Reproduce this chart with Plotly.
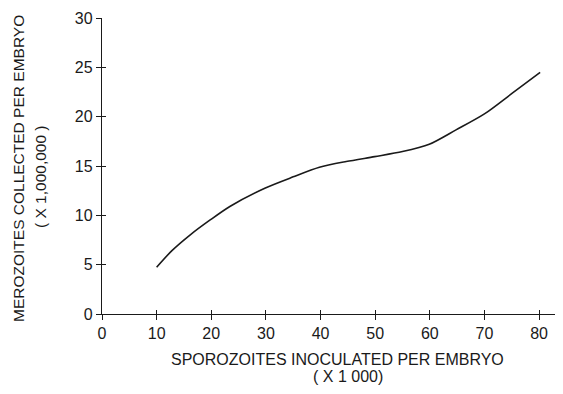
import plotly.graph_objects as go

sporozoites = [10, 12.8, 16.1, 19.8, 23.4, 29.8, 35.0, 39.8, 44.7, 49.9, 55.0, 59.9, 64.8, 70.0, 75.1, 80.2]
merozoites = [4.74, 6.42, 8.0, 9.53, 10.9, 12.75, 13.9, 14.87, 15.45, 15.95, 16.46, 17.2, 18.66, 20.28, 22.38, 24.5]
x_ticks = [0, 10, 20, 30, 40, 50, 60, 70, 80]
y_ticks = [0, 5, 10, 15, 20, 25, 30]

# the page body has an 8px default margin; size the figure to fit the window
OFF = 8
W, H = 563 - OFF, 394 - OFF
ML, MR, MT, MB = 102 - OFF, 1, 18 - OFF, 80
INK = "#1a1a1a"
FONT = "Liberation Sans, Arial, sans-serif"

fig = go.Figure()
fig.add_trace(go.Scatter(x=sporozoites, y=merozoites, mode="lines",
                         line=dict(color=INK, width=1.6, shape="spline", smoothing=0.8),
                         showlegend=False, hoverinfo="skip"))
fig.add_trace(go.Scatter(x=sporozoites, y=merozoites, mode="lines", xaxis="x2", yaxis="y2",
                         line=dict(color="rgba(0,0,0,0)", width=0),
                         showlegend=False, hoverinfo="skip"))

axis_common = dict(showgrid=False, zeroline=False, linecolor=INK, linewidth=1.4,
                   tickcolor=INK, tickwidth=1.2, tickfont=dict(family=FONT, size=16, color=INK))
fig.update_layout(
    width=W, height=H, autosize=False,
    margin=dict(l=ML, r=MR, t=MT, b=MB),
    paper_bgcolor="white", plot_bgcolor="white",
    xaxis=dict(range=[0, 84.2], tickvals=x_ticks, ticks="outside", ticklen=5,
               showline=True, **axis_common),
    yaxis=dict(range=[0, 30], tickvals=y_ticks, ticks="outside", ticklen=5,
               showline=True, **axis_common),
    xaxis2=dict(range=[0, 84.2], tickvals=x_ticks, ticks="inside", ticklen=4, overlaying="x",
                showticklabels=False, showline=False, showgrid=False, zeroline=False,
                tickcolor=INK, tickwidth=1.2),
    yaxis2=dict(range=[0, 30], tickvals=y_ticks, ticks="inside", ticklen=4, overlaying="y",
                showticklabels=False, showline=False, showgrid=False, zeroline=False,
                tickcolor=INK, tickwidth=1.2),
)

pw = W - ML - MR
ph = H - MT - MB
def px(x):
    return (x - OFF - ML) / pw
def py(y):
    return (OFF + H - MB - y) / ph

tfont = dict(family=FONT, size=16, color=INK)
yfont = dict(family=FONT, size=15.5, color=INK)
fig.add_annotation(text="MEROZOITES COLLECTED PER EMBRYO", xref="paper", yref="paper",
                   x=px(18), y=py(169), xanchor="center", yanchor="middle",
                   textangle=-90, showarrow=False, font=yfont)
fig.add_annotation(text="( X 1,000,000 )", xref="paper", yref="paper",
                   x=px(40), y=py(177), xanchor="center", yanchor="middle",
                   textangle=-90, showarrow=False, font=yfont)
fig.add_annotation(text="SPOROZOITES INOCULATED PER EMBRYO", xref="paper", yref="paper",
                   x=px(337), y=py(359), xanchor="center", yanchor="middle",
                   showarrow=False, font=tfont)
fig.add_annotation(text="( X 1 000)", xref="paper", yref="paper",
                   x=px(348), y=py(377), xanchor="center", yanchor="middle",
                   showarrow=False, font=tfont)

fig.write_html("out.html")
